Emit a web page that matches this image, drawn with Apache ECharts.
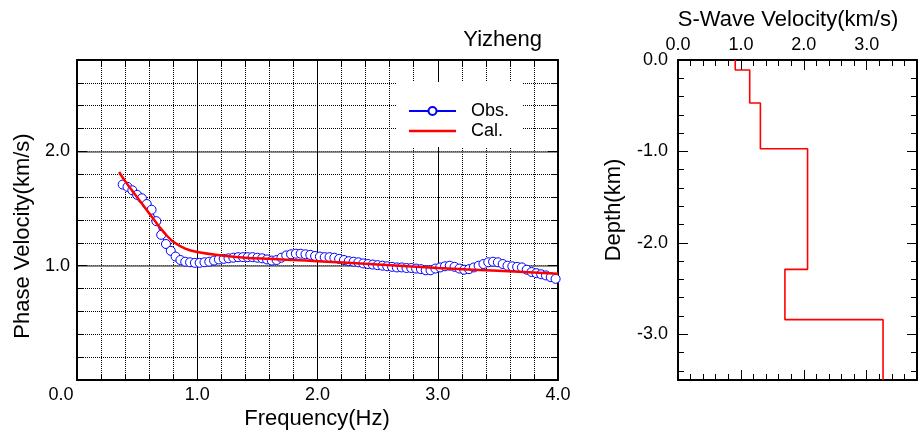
<!DOCTYPE html>
<html><head><meta charset="utf-8">
<script src="https://cdn.jsdelivr.net/npm/echarts@6/dist/echarts.min.js"></script>
<style>html,body{margin:0;padding:0;background:#fff}#c{width:923px;height:435px}</style>
</head><body><div id="c"></div>
<script>
// ---- data ----
const obsFreq = [0.38,0.42,0.46,0.50,0.54,0.58,0.62,0.66,0.70,0.74,
0.78,0.82,0.86,0.90,0.94,0.98,1.02,1.06,1.10,1.14,
1.18,1.22,1.26,1.30,1.34,1.38,1.42,1.46,1.50,1.54,
1.58,1.62,1.66,1.70,1.74,1.78,1.82,1.86,1.90,1.94,
1.98,2.02,2.06,2.10,2.14,2.18,2.22,2.26,2.30,2.34,
2.38,2.42,2.46,2.50,2.54,2.58,2.62,2.66,2.70,2.74,
2.78,2.82,2.86,2.90,2.94,2.98,3.02,3.06,3.10,3.14,
3.18,3.22,3.26,3.30,3.34,3.38,3.42,3.46,3.50,3.54,
3.58,3.62,3.66,3.70,3.74,3.78,3.82,3.86,3.90,3.94,3.98];
const obsVel = [1.71,1.69,1.66,1.62,1.59,1.54,1.49,1.39,1.27,1.19,
1.13,1.08,1.05,1.035,1.03,1.025,1.025,1.03,1.035,1.045,
1.055,1.06,1.065,1.07,1.075,1.075,1.075,1.075,1.07,1.065,
1.055,1.045,1.05,1.07,1.09,1.10,1.105,1.105,1.10,1.095,
1.085,1.08,1.075,1.075,1.07,1.06,1.05,1.04,1.035,1.03,
1.02,1.015,1.01,1.005,1.0,0.995,0.99,0.985,0.985,0.98,
0.98,0.975,0.97,0.96,0.96,0.975,0.985,0.995,1.0,0.99,
0.975,0.965,0.97,0.985,1.0,1.015,1.03,1.035,1.03,1.015,
1.0,0.995,0.99,0.985,0.965,0.945,0.935,0.925,0.915,0.90,0.885];
const calFreq = [0.35,0.40,0.45,0.50,0.55,0.60,0.65,0.70,0.75,0.80,0.90,1.0,1.2,1.4,1.6,1.8,2.0,2.5,3.0,3.5,4.0];
const calVel  = [1.82,1.74,1.67,1.60,1.53,1.46,1.39,1.32,1.26,1.21,1.15,1.12,1.09,1.07,1.06,1.05,1.04,1.01,0.98,0.955,0.93];
// S-wave profile: layer velocity (km/s) and layer top depth (km, downward)
const layerVs  = [0.91,1.14,1.31,2.06,1.70,3.26];
const layerTop = [0,0.11,0.47,0.97,2.29,2.84];
const profileBottom = 3.5;
// tick labels
const freqLabels  = ['0.0','1.0','2.0','3.0','4.0'];
const phaseLabels = ['','1.0','2.0'];
const vsLabels    = ['0.0','1.0','2.0','3.0'];
const depthLabels = ['0.0','-1.0','-2.0','-3.0'];

// ---- build ----
const FONT = 'Liberation Sans, Arial, Helvetica, sans-serif';
const obsData = obsFreq.map((f,i)=>[f,obsVel[i]]);
const calData = calFreq.map((f,i)=>[f,calVel[i]]);
const profData = [];
layerVs.forEach((v,i)=>{
  profData.push([v, layerTop[i]]);
  profData.push([v, i+1<layerTop.length ? layerTop[i+1] : profileBottom]);
});
const lab = arr => v => (Number.isInteger(v) && arr[v] !== undefined) ? arr[v] : '';

const LEFT = {left:77, top:60, width:481, height:320};
const RIGHT = {left:678, top:60, width:239, height:320};

function ax(o){
  return {
    type:'value', gridIndex:o.g, position:o.pos, min:o.min, max:o.max, interval:o.major?1:0.2,
    inverse: !!o.inverse, z: o.major?3:1,
    axisLine:{show:!!o.major, onZero:false, lineStyle:{color:'#000', width:2}},
    axisTick:{show:true, inside:true, length:o.major?10:6, lineStyle:{color:'#000', width:1}},
    axisLabel:{show:!!o.fmt, formatter:o.fmt, margin:o.margin||7, fontSize:18, fontFamily:FONT, color:'#000',
      rich:o.rich},
    splitLine:{show:!!o.split, lineStyle:o.split||{}},
    minorTick:{show:false}, minorSplitLine:{show:false}
  };
}

const dotted = {color:'#000', width:1, type:[1,1]};
const chart = echarts.init(document.getElementById('c'), null, {renderer:'canvas'});
chart.setOption({
  animation:false,
  backgroundColor:'#fff',
  grid:[Object.assign({},LEFT), Object.assign({},LEFT), Object.assign({},RIGHT), Object.assign({},RIGHT)].map(g=>Object.assign(g,{containLabel:false})),
  xAxis:[
    ax({g:0,pos:'bottom',min:0,max:4,major:true,margin:6,
        fmt:v=> v===0 ? '{s|'+freqLabels[0]+'}' : lab(freqLabels)(v),
        rich:{s:{fontSize:18,fontFamily:FONT,color:'#000',padding:[0,32,0,0]}},
        split:{color:'#000',width:1}}),
    ax({g:0,pos:'top',min:0,max:4,major:true}),
    ax({g:1,pos:'bottom',min:0,max:4,split:dotted}),
    ax({g:1,pos:'top',min:0,max:4}),
    ax({g:2,pos:'top',min:0,max:3.8,major:true,margin:6,fmt:lab(vsLabels)}),
    ax({g:2,pos:'bottom',min:0,max:3.8,major:true}),
    ax({g:3,pos:'top',min:0,max:3.8}),
    ax({g:3,pos:'bottom',min:0,max:3.8})
  ],
  yAxis:[
    ax({g:0,pos:'left',min:0,max:2.8,major:true,margin:7,fmt:lab(phaseLabels),split:{color:'#666',width:1.5}}),
    ax({g:0,pos:'right',min:0,max:2.8,major:true}),
    ax({g:1,pos:'left',min:0,max:2.8,split:dotted}),
    ax({g:1,pos:'right',min:0,max:2.8}),
    ax({g:2,pos:'left',min:0,max:profileBottom,inverse:true,major:true,margin:10,fmt:lab(depthLabels)}),
    ax({g:2,pos:'right',min:0,max:profileBottom,inverse:true,major:true}),
    ax({g:3,pos:'left',min:0,max:profileBottom,inverse:true}),
    ax({g:3,pos:'right',min:0,max:profileBottom,inverse:true})
  ],
  legend:{
    left:397, top:82, orient:'vertical', backgroundColor:'#fff',
    padding:[20,14,7,11], itemWidth:47, itemHeight:10, itemGap:2,
    textStyle:{fontSize:18, fontFamily:FONT, color:'#000', padding:[0,0,0,10]},
    data:[{name:'Obs.'},{name:'Cal.', icon:'path://M0,3.75H47V6.25H0Z M0,0H0.01V0.01H0Z M0,10H0.01V9.99H0Z'}]
  },
  series:[
    {name:'Obs.', type:'line', xAxisIndex:0, yAxisIndex:0, data:obsData, symbol:'circle', symbolSize:9,
     showSymbol:true, showAllSymbol:true, z:3,
     itemStyle:{color:'#fff', borderColor:'#0000ff', borderWidth:1},
     lineStyle:{color:'#0000ff', width:1}},
    {name:'Cal.', type:'line', xAxisIndex:0, yAxisIndex:0, data:calData, symbol:'none', smooth:0.3, z:4,
     itemStyle:{color:'#ff0000'}, lineStyle:{color:'#ff0000', width:2.5}},
    {name:'Vs', type:'line', xAxisIndex:4, yAxisIndex:4, data:profData, symbol:'none', z:4,
     lineStyle:{color:'#ff0000', width:1.6}}
  ],
  graphic:[
    {type:'text', x:542, y:40, style:{text:'Yizheng', font:'22px '+FONT, fill:'#000', textAlign:'right', textVerticalAlign:'middle'}},
    {type:'text', x:317, y:419, style:{text:'Frequency(Hz)', font:'22px '+FONT, fill:'#000', textAlign:'center', textVerticalAlign:'middle'}},
    {type:'text', x:23, y:236, rotation:Math.PI/2, style:{text:'Phase Velocity(km/s)', font:'22px '+FONT, fill:'#000', textAlign:'center', textVerticalAlign:'middle'}},
    {type:'text', x:788, y:20, style:{text:'S-Wave Velocity(km/s)', font:'22px '+FONT, fill:'#000', textAlign:'center', textVerticalAlign:'middle'}},
    {type:'text', x:614, y:210, rotation:Math.PI/2, style:{text:'Depth(km)', font:'22px '+FONT, fill:'#000', textAlign:'center', textVerticalAlign:'middle'}}
  ]
});
</script></body></html>
